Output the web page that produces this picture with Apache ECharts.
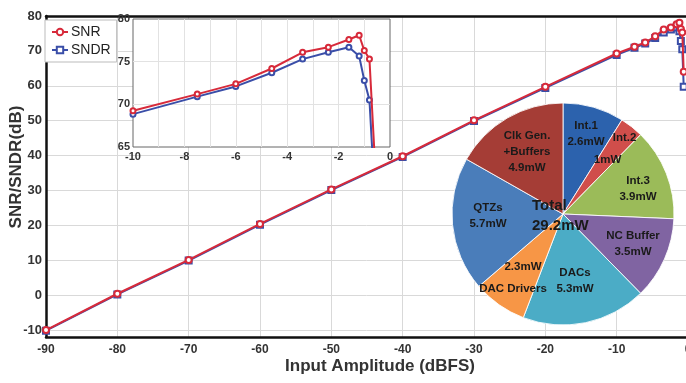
<!DOCTYPE html>
<html><head><meta charset="utf-8">
<script src="https://cdn.jsdelivr.net/npm/echarts@6/dist/echarts.min.js"></script>
<style>html,body{margin:0;padding:0;background:#fff}#c{width:686px;height:383px}</style>
</head><body><div id="c"></div>
<script>
// ---- data ----
const inputAmplitude = [-90, -80, -70, -60, -50, -40, -30, -20, -10, -7.5, -6, -4.6, -3.4, -2.4, -1.6, -1.2, -1.0, -0.8, -0.6];
const snrValues  = [-10.0, 0.4, 10.1, 20.4, 30.3, 39.8, 50.1, 59.7, 69.25, 71.2, 72.4, 74.2, 76.1, 76.7, 77.6, 78.1, 76.3, 75.3, 64.0];
const sndrValues = [-10.2, 0.2, 9.9, 20.2, 30.1, 39.6, 49.9, 59.4, 68.85, 70.9, 72.1, 73.7, 75.3, 76.1, 76.7, 75.65, 72.8, 70.5, 59.7];
const pieNames  = ['Int.1', 'Int.2', 'Int.3', 'NC Buffer', 'DACs', 'DAC Drivers', 'QTZs', 'Clk Gen.\n+Buffers'];
const pieValues = [2.6, 1, 3.9, 3.5, 5.3, 2.3, 5.7, 4.9];
const pieTotalText = 'Total\n29.2mW';
const xTitle = 'Input Amplitude (dBFS)';
const yTitle = 'SNR/SNDR(dB)';

// ---- styling ----
const F = '"Liberation Sans", Arial, sans-serif';
const RED = '#d72a3a', BLUE = '#3a4ea8';
const pieColors = ['#2c62ad', '#d04e4b', '#9bbb59', '#8064a2', '#4bacc6', '#f79646', '#4a7dba', '#a53d36'];
const labelSpots = [[586, 134], [616, 149], [638, 189], [633, 244], [575, 281], [513, 278], [488, 216], [527, 152]];

const mainData = v => inputAmplitude.map((x, i) => [x, v[i]]);

const chart = echarts.init(document.getElementById('c'), null, {renderer: 'canvas'});
chart.setOption({
  animation: false,
  backgroundColor: '#fff',
  textStyle: {fontFamily: F},
  grid: [
    {left: 46, right: -2, top: 16, bottom: 46, show: false, z: 0, outerBoundsMode: 'none', containLabel: false},
    {left: 133, top: 19, width: 257, height: 128, show: true, z: 1, outerBoundsMode: 'none', containLabel: false,
     backgroundColor: '#fff', borderColor: '#666', borderWidth: 1}
  ],
  legend: {
    data: ['SNR', 'SNDR'], orient: 'vertical', left: 45, top: 20,
    padding: [5, 6, 5, 6], itemGap: 4, itemWidth: 16, itemHeight: 8,
    borderColor: '#bbb', borderWidth: 1, backgroundColor: '#fff',
    textStyle: {fontFamily: F, fontSize: 14, color: '#222', padding: [0, 0, 0, -2]}
  },
  xAxis: [
    {type: 'value', gridIndex: 0, min: -90, max: 0, interval: 10, z: 0,
     axisLine: {show: true, onZero: false, lineStyle: {color: '#111', width: 2.5}}, axisTick: {show: false},
     axisLabel: {fontFamily: F, fontSize: 12, fontWeight: 'bold', color: '#333', margin: 7},
     splitLine: {show: true, showMinLine: false, showMaxLine: false, lineStyle: {color: '#d9d9d9', width: 1}},
     name: xTitle, nameLocation: 'middle', nameGap: 21, nameMoveOverlap: false,
     nameTextStyle: {fontFamily: F, fontSize: 17, fontWeight: 'bold', color: '#333', padding: [0, 0, 0, 26], verticalAlign: 'top'}},
    {type: 'value', gridIndex: 0, position: 'top', min: -90, max: 0, interval: 10, z: 0,
     axisLine: {show: true, onZero: false, lineStyle: {color: '#111', width: 2.5}}, axisTick: {show: false},
     axisLabel: {show: false}, splitLine: {show: false}},
    {type: 'value', gridIndex: 1, min: -10, max: 0, interval: 1, z: 2,
     axisLine: {show: false, onZero: false}, axisTick: {show: false},
     axisLabel: {fontFamily: F, fontSize: 11, fontWeight: 'bold', color: '#333', margin: 4,
                 formatter: v => (v % 2 === 0 ? String(v) : '')},
     splitLine: {show: true, showMinLine: false, showMaxLine: false, lineStyle: {color: '#e2e2e2', width: 1}}}
  ],
  yAxis: [
    {type: 'value', gridIndex: 0, min: -12, max: 80, minInterval: 10, maxInterval: 10, z: 0,
     axisLine: {show: true, onZero: false, lineStyle: {color: '#111', width: 2.5}}, axisTick: {show: false},
     axisLabel: {fontFamily: F, fontSize: 13, fontWeight: 'bold', color: '#333', margin: 4,
                 showMinLabel: false, formatter: v => (v % 10 === 0 ? String(v) : '')},
     splitLine: {show: true, showMinLine: false, showMaxLine: false, lineStyle: {color: '#d9d9d9', width: 1}},
     name: yTitle, nameLocation: 'middle', nameGap: 21, nameRotate: 90, nameMoveOverlap: false,
     nameTextStyle: {fontFamily: F, fontSize: 17, fontWeight: 'bold', color: '#333', padding: [0, 0, 0, 19]}},
    {type: 'value', gridIndex: 1, min: 65, max: 80, interval: 5, z: 2,
     axisLine: {show: false, onZero: false}, axisTick: {show: false},
     axisLabel: {fontFamily: F, fontSize: 11, fontWeight: 'bold', color: '#333', margin: 3},
     splitLine: {show: true, showMinLine: false, showMaxLine: false, lineStyle: {color: '#e2e2e2', width: 1}}}
  ],
  graphic: [{
    type: 'text', z: 100, left: 562 - 30, top: 196,
    style: {text: pieTotalText, x: 0, y: 0, width: 60, align: 'center', font: 'bold 15px ' + F,
            fill: '#1a1a1a', lineHeight: 20}
  }],
  series: [
    {name: 'SNDR', type: 'line', xAxisIndex: 0, yAxisIndex: 0, data: mainData(sndrValues),
     symbol: 'emptyRect', symbolSize: 6, color: BLUE, lineStyle: {width: 2, color: BLUE}, z: 2},
    {name: 'SNR', type: 'line', xAxisIndex: 0, yAxisIndex: 0, data: mainData(snrValues),
     symbol: 'emptyCircle', symbolSize: 6, color: RED, lineStyle: {width: 2, color: RED}, z: 3},
    {name: 'SNDR', type: 'line', xAxisIndex: 2, yAxisIndex: 1, data: mainData(sndrValues),
     symbol: 'emptyCircle', symbolSize: 5, color: BLUE, lineStyle: {width: 2, color: BLUE}, z: 4, clip: true},
    {name: 'SNR', type: 'line', xAxisIndex: 2, yAxisIndex: 1, data: mainData(snrValues),
     symbol: 'emptyCircle', symbolSize: 5, color: RED, lineStyle: {width: 2, color: RED}, z: 5, clip: true},
    {name: 'Power', type: 'pie', center: [563, 214], radius: 111, startAngle: 90, clockwise: true, z: 6,
     data: pieNames.map((n, i) => ({name: n, value: pieValues[i], itemStyle: {color: pieColors[i]}})),
     itemStyle: {borderColor: 'rgba(255,255,255,0.85)', borderWidth: 1},
     label: {
       show: true, position: 'inside', fontFamily: F, fontSize: 11.5, fontWeight: 'bold', color: '#1a1a1a', lineHeight: 16,
       formatter: p => {
         if (p.dataIndex === 1) return '{a|' + p.name + '}\n{b|' + p.value + 'mW}';
         if (p.dataIndex === 5) return '{c|' + p.value + 'mW}\n{d|' + p.name + '}';
         return p.name + '\n' + p.value + 'mW';
       },
       rich: {
         a: {fontFamily: F, fontSize: 11.5, fontWeight: 'bold', color: '#1a1a1a', lineHeight: 22, padding: [0, 0, 0, 17]},
         b: {fontFamily: F, fontSize: 11.5, fontWeight: 'bold', color: '#1a1a1a', lineHeight: 22, padding: [0, 17, 0, 0]},
         c: {fontFamily: F, fontSize: 11.5, fontWeight: 'bold', color: '#1a1a1a', lineHeight: 22, padding: [0, 0, 0, 20]},
         d: {fontFamily: F, fontSize: 11.5, fontWeight: 'bold', color: '#1a1a1a', lineHeight: 22}
       }
     },
     labelLine: {show: false},
     labelLayout: p => ({x: labelSpots[p.dataIndex][0], y: labelSpots[p.dataIndex][1], align: 'center', verticalAlign: 'middle'}),
     emphasis: {disabled: true}
    }
  ]
});
</script>
</body></html>
